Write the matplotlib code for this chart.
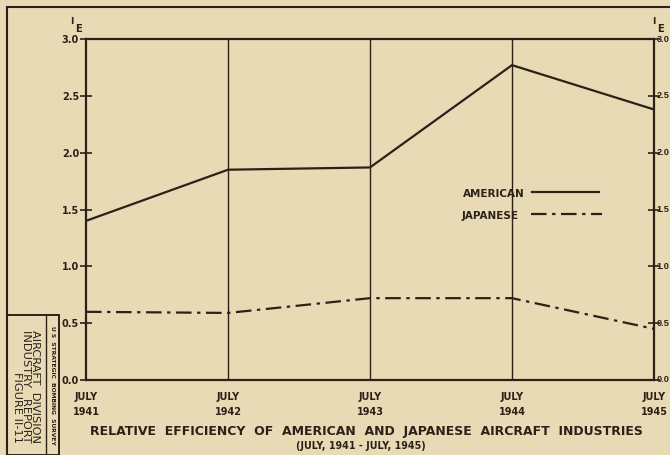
import matplotlib
matplotlib.use("Agg")
import matplotlib.pyplot as plt
from matplotlib.lines import Line2D
from matplotlib.patches import Rectangle
from matplotlib.transforms import blended_transform_factory

years = [1941, 1942, 1943, 1944, 1945]
x_labels = ["JULY\n1941", "JULY\n1942", "JULY\n1943", "JULY\n1944", "JULY\n1945"]
american = [1.40, 1.85, 1.87, 2.77, 2.38]
japanese = [0.60, 0.59, 0.72, 0.72, 0.45]
y_ticks = [0.0, 0.5, 1.0, 1.5, 2.0, 2.5, 3.0]
y_tick_labels = ["0.0", "0.5", "1.0", "1.5", "2.0", "2.5", "3.0"]

BG = "#e9dab6"
INK = "#2b2117"

plt.rcParams['font.family'] = ['DejaVu Sans']
fig = plt.figure(figsize=(6.7, 4.55), dpi=100, facecolor=BG)
W, H = 670, 455

def fx(px):
    return px / W

def fy(py):
    return 1 - py / H

ax = fig.add_axes([fx(86), fy(380), fx(654) - fx(86), fy(39) - fy(380)])
ax.set_facecolor(BG)
ax.set_xlim(years[0], years[-1])
ax.set_ylim(0, 3.0)

for s in ax.spines.values():
    s.set_color(INK)
    s.set_linewidth(1.6)

for yr in years[1:-1]:
    ax.axvline(yr, color=INK, lw=1.0)

ax.plot(years, american, color=INK, lw=1.6, solid_capstyle='butt')
ax.plot(years, japanese, color=INK, lw=1.6, dashes=(7, 2.5, 1.5, 2.5))

ax.set_yticks(y_ticks)
ax.set_yticklabels(y_tick_labels, fontweight='bold')
ax.tick_params(axis='y', which='major', direction='inout', length=8, width=1.2,
               colors=INK, labelsize=7, left=True, right=True,
               labelleft=True, labelright=False, pad=1)

# right-hand tick labels, kept inside the figure
trans_r = blended_transform_factory(fig.transFigure, ax.transData)
for v, lab in zip(y_ticks, y_tick_labels):
    fig.text(fx(669.5), v, lab, transform=trans_r, ha='right', va='center',
             fontsize=6.6, fontweight='bold', family='Liberation Sans', color=INK)

ax.set_xticks(years)
ax.set_xticklabels(x_labels, fontsize=7, fontweight='bold', color=INK,
                   linespacing=1.6)
ax.tick_params(axis='x', length=0, pad=9)

# Legend drawn manually in axes coordinates
ax.text(0.664, 0.546, "AMERICAN", transform=ax.transAxes, fontsize=7.5,
        fontweight='bold', color=INK, va='center', ha='left')
ax.add_line(Line2D([0.785, 0.903], [0.551, 0.551], transform=ax.transAxes,
                   color=INK, lw=1.6))
ax.text(0.662, 0.482, "JAPANESE", transform=ax.transAxes, fontsize=7.5,
        fontweight='bold', color=INK, va='center', ha='left')
ax.add_line(Line2D([0.783, 0.908], [0.486, 0.486], transform=ax.transAxes,
                   color=INK, lw=1.6, dashes=(7, 2.5, 1.5, 2.5)))

# I_E axis labels
for xi, xe in ((72, 78), (654, 660)):
    fig.text(fx(xi), fy(21), "I", fontsize=6.5, fontweight='bold', color=INK,
             ha='center', va='center')
    fig.text(fx(xe), fy(29), "E", fontsize=7.2, fontweight='bold', color=INK,
             ha='center', va='center')

# Title
fig.text(fx(366), fy(431), "RELATIVE  EFFICIENCY  OF  AMERICAN  AND  JAPANESE  AIRCRAFT  INDUSTRIES",
         fontsize=9.0, fontweight='bold', color=INK, ha='center', va='center')
fig.text(fx(361), fy(446), "(JULY, 1941 - JULY, 1945)", fontsize=6.9,
         fontweight='bold', color=INK, ha='center', va='center')

# Outer frame lines
fig.add_artist(Line2D([fx(7), fx(670)], [fy(7), fy(7)], color=INK, lw=1.5))
fig.add_artist(Line2D([fx(7), fx(7)], [fy(7), fy(455)], color=INK, lw=1.5))

# Left stamp box
fig.add_artist(Rectangle((fx(7), 0), fx(59) - fx(7), fy(315), fill=False,
                         edgecolor=INK, lw=1.4))
fig.add_artist(Line2D([fx(46), fx(46)], [0, fy(315)], color=INK, lw=1.0))
fig.text(fx(52.5), fy(385), "U S  STRATEGIC  BOMBING  SURVEY", rotation=-90,
         fontsize=4.3, fontweight='bold', color=INK, ha='center', va='center')
fig.text(fx(26), fy(386), "AIRCRAFT  DIVISION\nINDUSTRY   REPORT\nFIGURE II-11",
         rotation=-90, fontsize=8.2, color=INK, ha='center', va='center',
         linespacing=0.9, multialignment='right')

fig.savefig("out.png", dpi=100, facecolor=BG)
